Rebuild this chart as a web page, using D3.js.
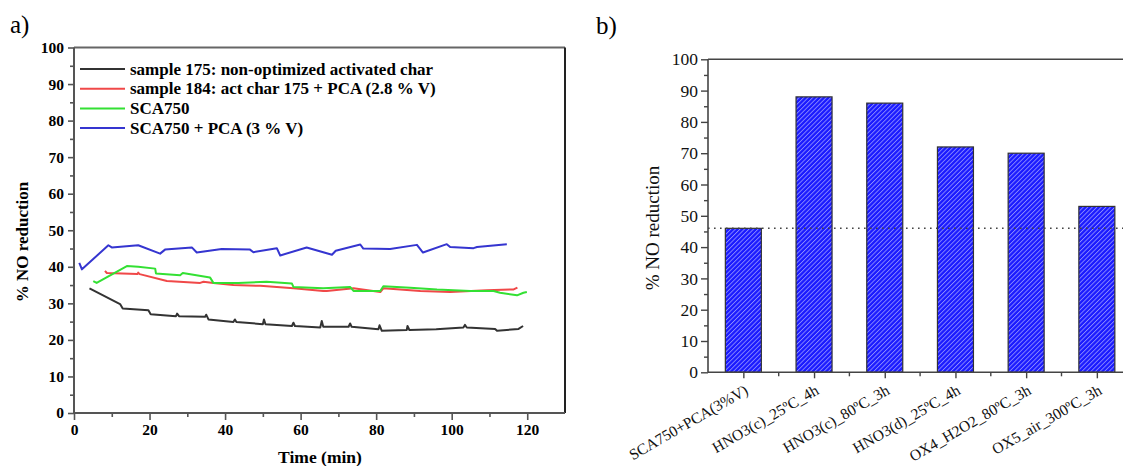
<!DOCTYPE html>
<html><head><meta charset="utf-8">
<script src="https://cdn.jsdelivr.net/npm/d3@7"></script>
<style>body{margin:0;background:#fff}svg{display:block}</style>
</head><body>
<svg id="c" width="1123" height="466"></svg>
<script>
// ---------- data: panel a ----------
const seriesLabels = ["sample 175: non-optimized activated char","sample 184: act char 175 + PCA (2.8 % V)","SCA750","SCA750 + PCA (3 % V)"];
const seriesColors = ["#333333","#f04848","#33e033","#3535d0"];
const sample175 = [[4.1,34.1],[12.2,29.8],[12.9,28.6],[19.7,28.1],[20.3,27.0],[27.0,26.5],[27.3,27.2],[27.8,26.5],[34.7,26.3],[35.0,26.9],[35.6,25.6],[42.2,24.9],[42.6,25.6],[43.0,24.9],[50.0,24.3],[50.3,25.6],[50.7,24.3],[57.7,23.8],[58.1,24.7],[58.5,23.8],[65.2,23.4],[65.6,25.2],[66.0,23.6],[72.7,23.6],[73.1,24.5],[73.5,23.6],[80.6,22.9],[80.9,24.0],[81.5,22.5],[88.1,22.7],[88.3,23.8],[88.8,22.7],[95.9,22.9],[103.1,23.4],[103.5,24.1],[104.0,23.4],[111.5,23.0],[112.0,22.5],[117.7,23.0],[118.9,23.8]];
const sample184 = [[8.2,38.9],[8.7,38.3],[16.8,38.0],[17.0,38.4],[17.4,38.0],[24.6,36.1],[33.4,35.6],[34.3,35.9],[36.9,35.6],[42.2,35.0],[49.3,34.8],[58.1,34.1],[66.0,33.4],[66.9,33.4],[74.0,34.1],[81.1,33.1],[81.9,34.1],[91.7,33.4],[99.6,33.1],[109.3,33.6],[116.4,33.8],[117.4,34.3]];
const sca750 = [[5.1,36.1],[6.0,35.6],[14.0,40.2],[17.0,40.0],[21.5,39.5],[21.7,38.2],[28.1,37.7],[28.8,38.3],[36.0,37.1],[36.9,35.6],[43.5,35.6],[51.0,35.9],[57.7,35.4],[58.1,34.5],[66.0,34.1],[73.1,34.5],[74.0,33.4],[81.1,33.4],[81.9,34.7],[89.0,34.3],[96.1,33.8],[104.9,33.4],[111.1,33.4],[112.8,32.9],[117.3,32.2],[119.0,32.9],[119.9,33.1]];
const sca750pca = [[1.4,41.1],[2.1,39.3],[9.1,45.9],[10.0,45.3],[17.0,45.9],[22.8,43.6],[24.1,44.7],[31.2,45.3],[32.5,43.9],[39.1,44.9],[46.6,44.7],[47.5,44.0],[53.7,45.1],[54.6,43.1],[61.6,45.3],[68.3,43.3],[69.3,44.4],[75.8,46.1],[76.6,45.0],[83.7,44.9],[90.8,46.0],[92.4,43.9],[98.7,46.2],[99.6,45.4],[105.8,45.1],[106.7,45.4],[114.6,46.2]];
const allSeries = [sample175, sample184, sca750, sca750pca];
const timeTicks = [0,20,40,60,80,100,120];
const pctTicks = [0,10,20,30,40,50,60,70,80,90,100];

// ---------- data: panel b ----------
const barCategories = ["SCA750+PCA(3%V)","HNO3(c)_25ºC_4h","HNO3(c)_80ºC_3h","HNO3(d)_25ºC_4h","OX4_H2O2_80ºC_3h","OX5_air_300ºC_3h"];
const barValues = [46,88,86,72,70,53];
const referenceValue = 46;

const svg = d3.select("#c");
const serif = "'Liberation Serif','Times New Roman',serif";

// pattern
const defs = svg.append("defs");
const pat = defs.append("pattern").attr("id","hatch").attr("patternUnits","userSpaceOnUse")
  .attr("width",3.2).attr("height",3.2).attr("patternTransform","rotate(45)");
pat.append("rect").attr("width",3.2).attr("height",3.2).attr("fill","#1a1aff");
pat.append("rect").attr("x",0).attr("width",0.9).attr("height",3.2).attr("fill","#8c8cff");

// ================= panel a =================
const ax = {l:74, r:565, t:47.5, b:413};
const xA = d3.scaleLinear().domain([0,130]).range([ax.l, ax.r]);
const yA = d3.scaleLinear().domain([0,100]).range([ax.b, ax.t]);
const gA = svg.append("g");

svg.append("text").attr("x",10).attr("y",33).attr("font-family",serif).attr("font-size",25).text("a)");

// frame top and right
gA.append("line").attr("x1",ax.l).attr("x2",ax.r).attr("y1",ax.t).attr("y2",ax.t).attr("stroke","#666").attr("stroke-width",2);
gA.append("line").attr("x1",ax.r).attr("x2",ax.r).attr("y1",ax.t).attr("y2",ax.b).attr("stroke","#222").attr("stroke-width",2);

// y axis
const yAxA = d3.axisLeft(yA).tickValues(pctTicks).tickSize(6).tickPadding(4);
const gyA = gA.append("g").attr("transform",`translate(${ax.l},0)`).call(yAxA);
gA.append("g").attr("transform",`translate(${ax.l},0)`)
  .call(d3.axisLeft(yA).tickValues(d3.range(5,100,10)).tickSize(4).tickFormat(""))
  .call(g=>g.select(".domain").remove());
// x axis
const gxA = gA.append("g").attr("transform",`translate(0,${ax.b})`)
  .call(d3.axisBottom(xA).tickValues(timeTicks).tickSize(7).tickPadding(4));
gA.append("g").attr("transform",`translate(0,${ax.b})`)
  .call(d3.axisBottom(xA).tickValues(d3.range(10,130,20)).tickSize(4).tickFormat(""))
  .call(g=>g.select(".domain").remove());
gA.selectAll(".domain").attr("stroke","#555").attr("stroke-width",2);
gA.selectAll(".tick line").attr("stroke","#555").attr("stroke-width",1.6);
gA.selectAll(".tick text").attr("font-family",serif).attr("font-weight","bold").attr("font-size",15.5).attr("fill","#000");
gyA.selectAll(".domain").attr("d",`M0,${ax.b}V${ax.t}`);
gxA.select(".domain").attr("d",`M${ax.l},0H${ax.r}`);

// lines
const lineGen = d3.line().x(d=>xA(d[0])).y(d=>yA(d[1]));
allSeries.forEach((s,i)=>{
  gA.append("path").datum(s).attr("d",lineGen).attr("fill","none")
    .attr("stroke",seriesColors[i]).attr("stroke-width",2).attr("stroke-linejoin","round");
});

// legend
const leg = gA.append("g");
seriesLabels.forEach((lab,i)=>{
  const y = 69 + i*19.7;
  leg.append("line").attr("x1",80).attr("x2",125).attr("y1",y).attr("y2",y).attr("stroke",seriesColors[i]).attr("stroke-width",2);
  leg.append("text").attr("x",130).attr("y",y+5.5).attr("font-family",serif).attr("font-weight","bold").attr("font-size",17).text(lab);
});

// titles
svg.append("text").attr("x",320).attr("y",463).attr("text-anchor","middle").attr("font-family",serif).attr("font-weight","bold").attr("font-size",17.5).text("Time (min)");
svg.append("text").attr("transform","translate(28,242) rotate(-90)").attr("text-anchor","middle").attr("font-family",serif).attr("font-weight","bold").attr("font-size",17).text("% NO reduction");

// ================= panel b =================
const bx = {l:708, t:59.3, b:372.3};
const step = 70.7;
const xB = d3.scalePoint().domain(barCategories).range([bx.l, bx.l + step*barCategories.length]).padding(0.5);
const yB = d3.scaleLinear().domain([0,100]).range([bx.b, bx.t]);
const gB = svg.append("g");

svg.append("text").attr("x",596).attr("y",34).attr("font-family",serif).attr("font-size",25).text("b)");

gB.append("line").attr("x1",bx.l).attr("x2",1123).attr("y1",bx.t).attr("y2",bx.t).attr("stroke","#666").attr("stroke-width",2);

const barW = 36;
gB.selectAll("rect.bar").data(barValues).join("rect").attr("class","bar")
  .attr("x",(d,i)=>xB(barCategories[i]) - barW/2).attr("width",barW)
  .attr("y",d=>yB(d)).attr("height",d=>yB(0)-yB(d))
  .attr("fill","url(#hatch)").attr("stroke","#333").attr("stroke-width",1.2);

// reference dotted line
gB.append("line").attr("x1",bx.l).attr("x2",1123).attr("y1",yB(referenceValue)).attr("y2",yB(referenceValue))
  .attr("stroke","#000").attr("stroke-width",1.6).attr("stroke-dasharray","1.6,4.4");

const gyB = gB.append("g").attr("transform",`translate(${bx.l},0)`)
  .call(d3.axisLeft(yB).tickValues(pctTicks).tickSize(7).tickPadding(3));
gB.append("g").attr("transform",`translate(${bx.l},0)`)
  .call(d3.axisLeft(yB).tickValues(d3.range(5,100,10)).tickSize(4).tickFormat(""))
  .call(g=>g.select(".domain").remove());
gyB.select(".domain").attr("d",`M0,${bx.b}V${bx.t}`);
const gxB = gB.append("g").attr("transform",`translate(0,${bx.b})`)
  .call(d3.axisBottom(xB).tickSize(6).tickFormat(""));
gxB.select(".domain").attr("d",`M${bx.l},0H1123`);
// minor ticks between categories
gB.append("g").attr("transform",`translate(0,${bx.b})`).selectAll("line")
  .data(d3.range(1,barCategories.length)).join("line")
  .attr("x1",d=>bx.l+d*step).attr("x2",d=>bx.l+d*step).attr("y1",0).attr("y2",4);
gB.selectAll(".domain").attr("stroke","#444").attr("stroke-width",1.6);
gB.selectAll(".tick line, g > line").attr("stroke","#444").attr("stroke-width",1.4);
gyB.selectAll(".tick text").attr("font-family",serif).attr("font-size",17.5).attr("fill","#111");

// rotated category labels
gB.selectAll("text.cat").data(barCategories).join("text").attr("class","cat")
  .attr("transform",d=>`translate(${xB(d)+6},${bx.b+21}) rotate(-30)`)
  .attr("text-anchor","end").attr("font-family",serif).attr("font-size",15.5).attr("fill","#111").text(d=>d);

svg.append("text").attr("transform","translate(659,228) rotate(-90)").attr("text-anchor","middle")
  .attr("font-family",serif).attr("font-size",19).attr("fill","#111").text("% NO reduction");
</script>
</body></html>
